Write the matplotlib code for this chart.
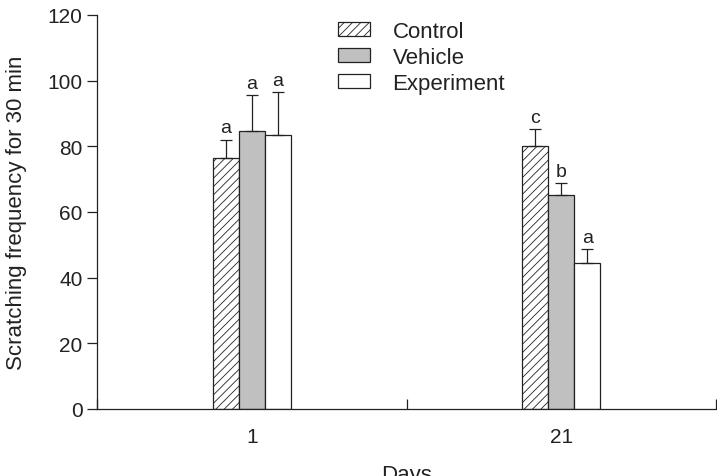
import numpy as np
import matplotlib
matplotlib.use('Agg')
import matplotlib.pyplot as plt

plt.rcParams['font.family'] = ['Liberation Sans', 'DejaVu Sans']
plt.rcParams['hatch.linewidth'] = 0.6

# Dane
days = ['1', '21']
groups = ['Control', 'Vehicle', 'Experiment']
means = {
    'Control': [76.4, 80.1],
    'Vehicle': [84.7, 65.2],
    'Experiment': [83.5, 44.5],
}
errors = {
    'Control': [5.6, 5.2],
    'Vehicle': [10.9, 3.6],
    'Experiment': [13.0, 4.2],
}
letters = {
    'Control': ['a', 'c'],
    'Vehicle': ['a', 'b'],
    'Experiment': ['a', 'a'],
}

styles = {
    'Control': dict(facecolor='white', hatch='////'),
    'Vehicle': dict(facecolor='#c0c0c0', hatch=None),
    'Experiment': dict(facecolor='white', hatch=None),
}

fig = plt.figure(figsize=(7.17, 4.77), dpi=100)
ax = fig.add_axes([0.1353, 0.1405, 0.8633, 0.826])

x = np.arange(len(days))
width = 0.084

for i, g in enumerate(groups):
    pos = x + (i - 1) * width
    ax.bar(pos, means[g], width, edgecolor='#222222', linewidth=0.9,
           label=g, **styles[g])
    ax.errorbar(pos, means[g], yerr=[np.zeros(len(days)), errors[g]],
                fmt='none', ecolor='#222222', elinewidth=0.9, capsize=4.5,
                capthick=0.9)
    for p, m, e, l in zip(pos, means[g], errors[g], letters[g]):
        ax.text(p, m + e + 1.0, l, ha='center', va='bottom', fontsize=14,
                color='#222222')

# Osie
ax.set_xlim(-0.5, 1.5)
ax.set_ylim(0, 120)
ax.set_yticks(np.arange(0, 121, 20))
ax.set_xticks([-0.5, 0.5, 1.5])
ax.set_xticklabels([])
ax.set_xticks(x, minor=True)
ax.set_xticklabels(days, minor=True)
ax.tick_params(axis='x', which='minor', length=0, pad=13, labelsize=15,
               labelcolor='#222222')
ax.tick_params(axis='x', which='major', direction='in', length=7, width=0.9,
               color='#222222')
ax.tick_params(axis='y', direction='out', length=7, width=0.9, labelsize=15,
               color='#222222', labelcolor='#222222')
for s in ['top', 'right']:
    ax.spines[s].set_visible(False)
for s in ['left', 'bottom']:
    ax.spines[s].set_linewidth(0.9)
    ax.spines[s].set_color('#222222')

ax.set_ylabel('Scratching frequency for 30 min', fontsize=16, color='#222222')
ax.yaxis.set_label_coords(-0.113, 0.5)
ax.set_xlabel('Days', fontsize=16, color='#222222')
ax.xaxis.set_label_coords(0.5, -0.14)

leg = fig.legend(loc='upper left', bbox_to_anchor=(338 / 717, 1 - 22 / 477),
                 frameon=False, fontsize=16, handlelength=1.45,
                 handleheight=0.55, labelspacing=0.22, handletextpad=1.0,
                 borderpad=0, borderaxespad=0)
for t in leg.get_texts():
    t.set_color('#222222')

fig.savefig('out.png', dpi=100)
